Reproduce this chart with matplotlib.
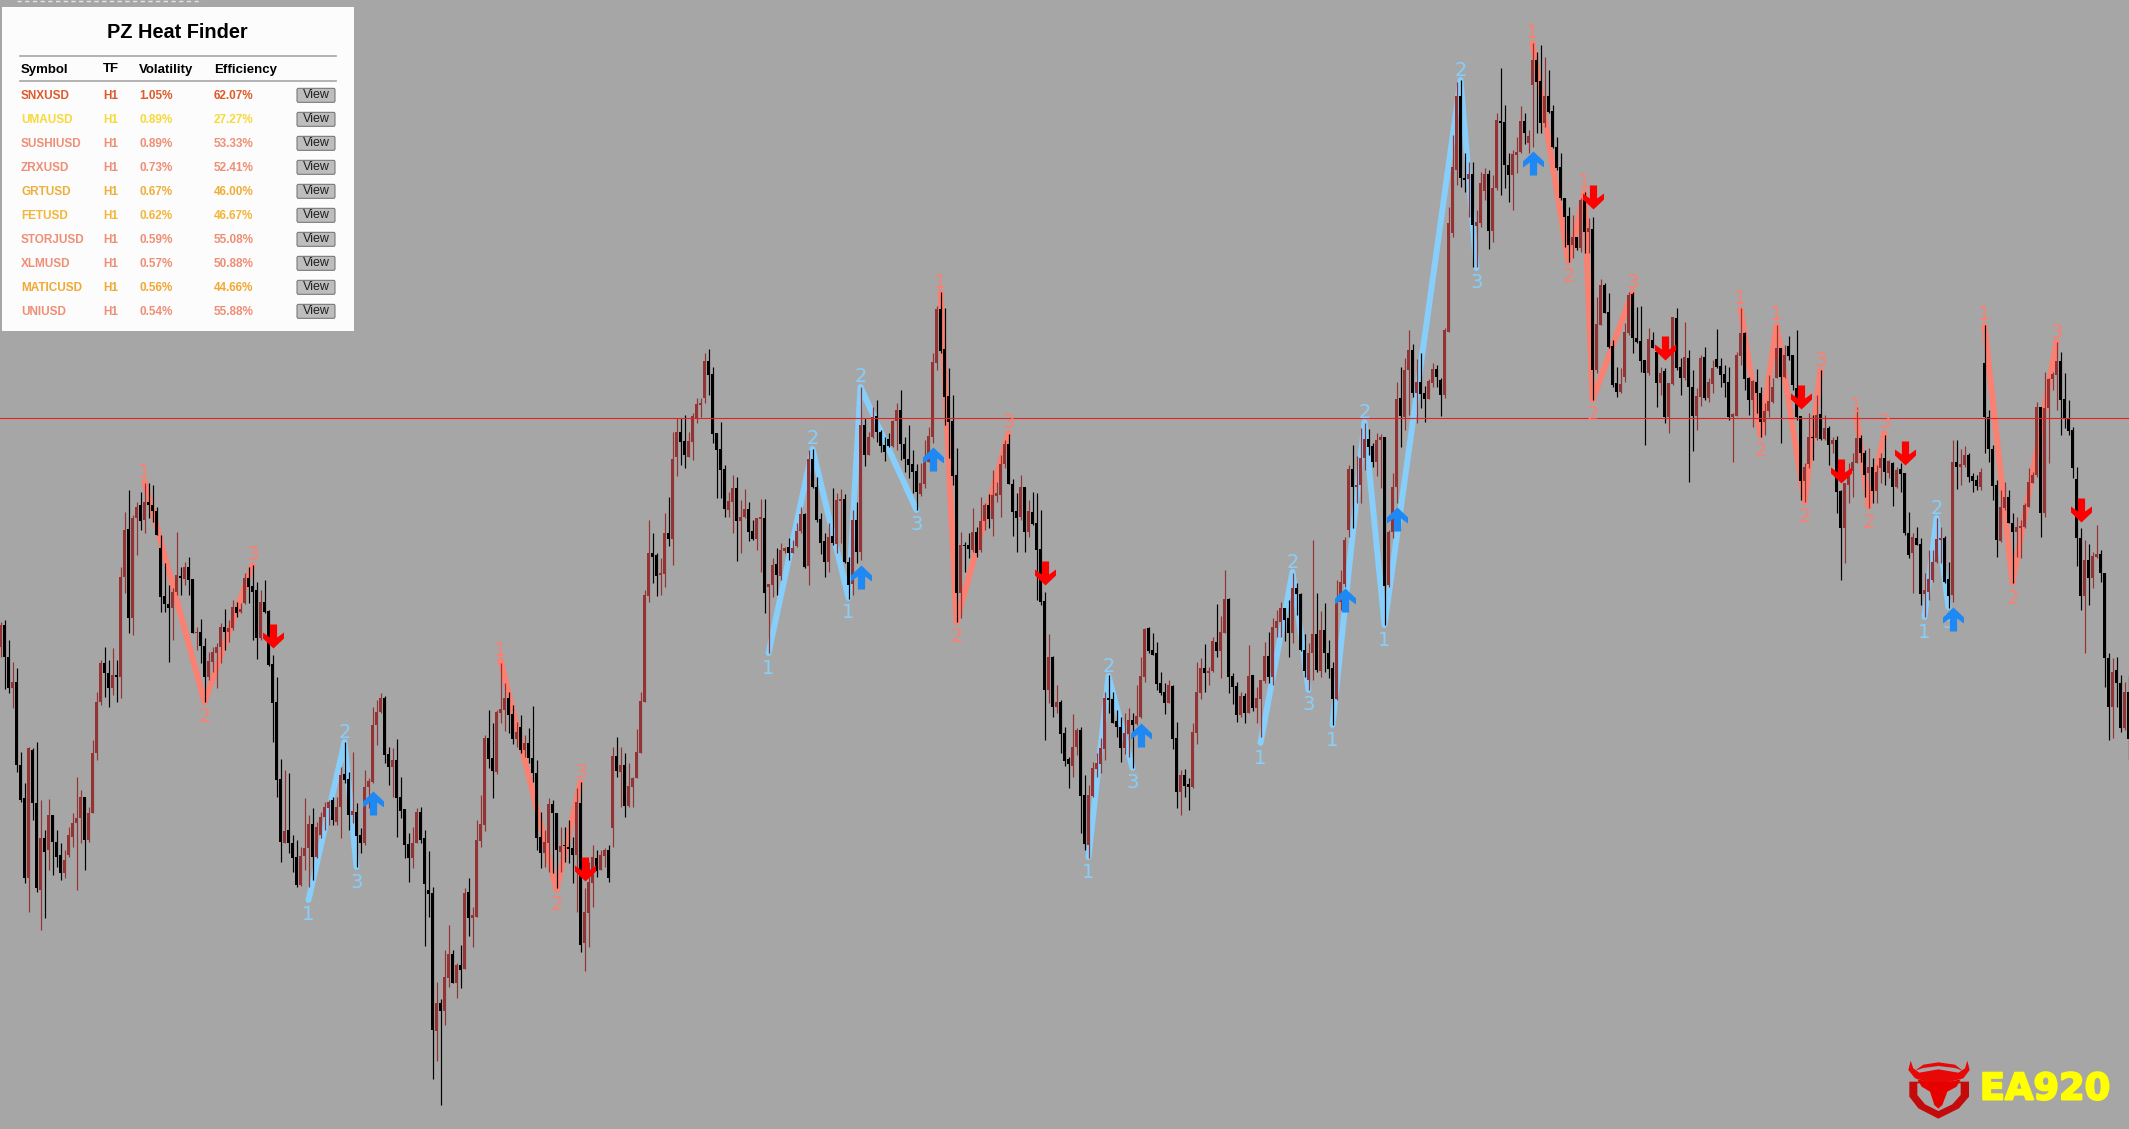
import numpy as np
import matplotlib
matplotlib.use('Agg')
import matplotlib.pyplot as plt
import matplotlib.patheffects as pe
from matplotlib.path import Path
from matplotlib.patches import Polygon, Rectangle, FancyBboxPatch

# no price scale is visible, so candles are kept in chart rows read from the picture (smaller = higher)
directions = ("rkkrkkkrkk" "rkrkkkrrrr" "rkrrrrkkrk" "rrkrrkrkkk" "kkkrrkrkkr" "kkrrrrkrrk"
              "rrkkkrkkkk" "krkkkrrrkr" "rrrkrrkkrk" "krrrrrkkrk" "kkkrrkkkkr" "krrkrkrkrr"
              "rrkkrrrkkr" "krkkkkrrkk" "rkkkrkrrrk" "rrkrkrkrrr" "rrrkkrrkrr" "kkrrrrrkkk"
              "kkrrkrrkkr" "rkrrkrrkrr" "rkrkkkkrkr" "rkkrkrkrrk" "kkkrrkkkkk" "rrrrrkkkkk"
              "rkkrkrrkrr" "rrkkkrkrkk" "kkrkrkkkrr" "kkrrrrrkkk" "krrkrrrkkk" "kkrkkrkkrr"
              "rkrrkrrkkk" "rkrkrrrkrr" "rkkrkkkrrk" "rkkkrrrrkr" "rrkkrrkrrr" "krrkrkkrrk"
              "krrrrkkrkr" "rrkrrkkkrr" "rkrrkkrkkk" "kkkrkrkrkr" "rkkkkrrrkk" "kkrkkrkrrk"
              "krkkrrkrrk" "kkkrrrkkrk" "krrrrkrkkk" "krrkrkrkrk" "krrrrkkrkr" "rkrkrkkkrk"
              "krrrrrkkrk" "rrkkkrkkkk" "rrkkrrrrrr" "krrrrkkkkk" "krkrrkkkrk" "krk")

highs = [622, 620, 640, 662, 668, 752, 783, 747, 748, 742,
         800, 830, 799, 815, 830, 843, 850, 827, 813, 777,
         790, 797, 807, 740, 692, 660, 647, 660, 648, 660,
         567, 512, 490, 515, 502, 492, 483, 483, 485, 507,
         535, 563, 585, 588, 532, 567, 562, 557, 579, 627,
         619, 638, 652, 647, 643, 623, 609, 620, 600, 602,
         603, 573, 567, 565, 582, 590, 580, 610, 655, 677,
         759, 770, 773, 835, 840, 847, 798, 815, 808, 822,
         812, 802, 800, 797, 797, 767, 742, 772, 752, 803,
         828, 770, 778, 707, 700, 693, 696, 747, 748, 739,
         777, 809, 833, 827, 808, 807, 830, 851, 887, 982,
         999, 950, 925, 950, 963, 945, 888, 878, 907, 820,
         795, 735, 710, 723, 710, 663, 683, 692, 705, 722,
         715, 735, 728, 706, 760, 812, 830, 798, 800, 813,
         827, 827, 820, 837, 788, 782, 888, 862, 845, 850,
         850, 848, 845, 747, 737, 747, 753, 763, 777, 729,
         692, 590, 520, 533, 553, 558, 513, 497, 432, 418,
         418, 415, 432, 413, 398, 398, 353, 349, 367, 433,
         422, 465, 492, 475, 477, 500, 489, 502, 520, 518,
         499, 499, 585, 558, 548, 543, 547, 538, 540, 523,
         507, 513, 450, 449, 477, 513, 533, 523, 488, 493,
         489, 494, 557, 510, 502, 387, 418, 432, 407, 400,
         430, 437, 433, 420, 403, 390, 437, 425, 450, 464,
         463, 440, 427, 353, 306, 292, 308, 368, 395, 448,
         532, 542, 533, 508, 527, 497, 503, 494, 470, 482,
         455, 440, 434, 479, 493, 475, 487, 500, 492, 493,
         510, 592, 634, 656, 685, 700, 727, 757, 714, 728,
         727, 775, 785, 762, 753, 738, 692, 675, 692, 710,
         717, 713, 708, 713, 685, 657, 628, 627, 633, 642,
         672, 683, 680, 685, 722, 770, 769, 778, 723, 662,
         658, 644, 667, 637, 604, 616, 570, 598, 673, 682,
         692, 693, 645, 675, 687, 680, 642, 632, 618, 610,
         602, 608, 600, 573, 583, 593, 634, 643, 540, 593,
         611, 603, 640, 662, 580, 570, 537, 465, 445, 456,
         428, 423, 429, 443, 433, 434, 437, 530, 473, 382,
         367, 358, 330, 344, 359, 353, 386, 379, 363, 365,
         378, 328, 207, 135, 82, 80, 153, 162, 162, 210,
         172, 168, 170, 175, 113, 68, 105, 153, 150, 137,
         106, 113, 130, 43, 52, 45, 57, 70, 105, 137,
         153, 198, 207, 215, 237, 198, 192, 218, 217, 297,
         279, 283, 293, 340, 367, 368, 323, 292, 292, 307,
         306, 360, 328, 332, 348, 367, 368, 383, 317, 308,
         358, 322, 350, 370, 388, 355, 347, 378, 360, 329,
         358, 365, 367, 413, 352, 308, 332, 377, 380, 369,
         387, 403, 375, 378, 325, 348, 345, 336, 355, 330,
         417, 463, 413, 415, 395, 370, 415, 426, 437, 436,
         490, 483, 463, 453, 407, 435, 450, 448, 458, 465,
         453, 435, 460, 462, 467, 463, 473, 512, 533, 527,
         538, 573, 550, 550, 518, 527, 536, 562, 440, 440,
         449, 446, 453, 473, 475, 468, 325, 410, 445, 480,
         490, 482, 490, 513, 517, 520, 503, 468, 472, 402,
         407, 372, 378, 372, 342, 352, 373, 400, 427, 467,
         528, 540, 544, 552, 525, 550, 573, 653, 658, 657,
         675, 682, 675]

body_tops = [625, 625, 657, 682, 682, 765, 798, 748, 750, 803,
             838, 838, 815, 815, 842, 855, 860, 835, 823, 818,
             797, 797, 813, 753, 702, 663, 663, 673, 675, 675,
             577, 530, 529, 518, 507, 505, 502, 502, 505, 511,
             548, 596, 604, 592, 575, 576, 567, 567, 579, 632,
             632, 646, 661, 652, 647, 627, 627, 628, 607, 607,
             609, 578, 578, 586, 590, 602, 602, 611, 664, 702,
             779, 831, 830, 843, 857, 856, 848, 824, 824, 827,
             817, 807, 802, 800, 807, 775, 774, 779, 811, 812,
             835, 787, 781, 725, 712, 698, 698, 754, 760, 760,
             797, 809, 844, 843, 812, 812, 838, 890, 893, 1003,
             1003, 977, 954, 954, 965, 965, 893, 892, 915, 840,
             824, 738, 738, 758, 712, 709, 698, 698, 714, 732,
             727, 743, 743, 758, 773, 837, 842, 804, 804, 813,
             846, 845, 847, 848, 802, 803, 912, 882, 857, 858,
             855, 850, 850, 756, 756, 765, 765, 786, 778, 752,
             701, 595, 553, 553, 555, 573, 533, 533, 459, 432,
             432, 441, 441, 416, 404, 403, 361, 361, 374, 433,
             449, 469, 501, 488, 488, 517, 509, 509, 531, 518,
             517, 518, 584, 565, 564, 550, 548, 547, 548, 531,
             514, 514, 459, 459, 487, 519, 541, 537, 536, 500,
             499, 499, 562, 520, 520, 425, 425, 437, 417, 416,
             432, 445, 439, 421, 410, 410, 444, 459, 464, 471,
             483, 462, 436, 362, 309, 309, 349, 396, 421, 475,
             545, 545, 545, 532, 532, 521, 505, 505, 495, 493,
             464, 444, 444, 484, 511, 487, 487, 511, 512, 523,
             549, 601, 657, 657, 702, 702, 733, 759, 747, 730,
             730, 795, 795, 768, 763, 748, 698, 698, 699, 721,
             727, 733, 720, 720, 716, 676, 629, 628, 650, 653,
             683, 692, 685, 686, 738, 775, 775, 784, 732, 692,
             668, 668, 671, 641, 642, 632, 599, 599, 676, 686,
             696, 696, 676, 675, 698, 680, 656, 656, 627, 621,
             608, 608, 618, 588, 588, 594, 650, 653, 634, 634,
             630, 630, 653, 668, 600, 582, 540, 469, 469, 485,
             458, 439, 439, 446, 440, 437, 437, 532, 487, 399,
             398, 370, 350, 350, 382, 382, 393, 381, 369, 369,
             380, 330, 223, 167, 96, 96, 178, 174, 174, 222,
             183, 174, 174, 188, 120, 121, 122, 165, 154, 152,
             121, 121, 136, 60, 60, 81, 96, 96, 111, 147,
             167, 198, 216, 237, 237, 200, 200, 228, 229, 324,
             285, 285, 312, 346, 383, 384, 332, 295, 294, 338,
             341, 360, 339, 340, 352, 373, 371, 383, 317, 318,
             367, 357, 358, 387, 396, 358, 357, 382, 368, 359,
             366, 374, 382, 414, 355, 333, 333, 378, 381, 382,
             393, 411, 401, 387, 348, 348, 355, 346, 355, 388,
             416, 467, 437, 437, 415, 414, 428, 428, 440, 440,
             491, 483, 472, 462, 438, 438, 453, 467, 467, 472,
             458, 458, 461, 463, 470, 469, 473, 533, 537, 538,
             544, 590, 579, 562, 539, 538, 538, 579, 462, 462,
             464, 455, 455, 476, 480, 472, 363, 417, 449, 485,
             507, 497, 497, 523, 527, 526, 505, 482, 475, 407,
             407, 408, 379, 374, 361, 361, 399, 418, 430, 479,
             538, 560, 560, 556, 554, 554, 573, 658, 672, 670,
             683, 692, 692]

body_bots = [647, 657, 688, 688, 765, 800, 878, 878, 803, 888,
             890, 852, 850, 842, 857, 873, 873, 855, 837, 823,
             818, 840, 840, 813, 753, 702, 673, 688, 688, 677,
             677, 577, 618, 618, 518, 521, 520, 505, 511, 535,
             597, 604, 608, 608, 592, 578, 579, 580, 633, 633,
             646, 677, 677, 662, 653, 647, 632, 632, 628, 613,
             612, 603, 587, 592, 638, 638, 612, 665, 703, 780,
             842, 843, 843, 858, 885, 885, 856, 848, 857, 857,
             835, 817, 808, 820, 822, 807, 780, 815, 815, 836,
             843, 843, 787, 782, 725, 712, 755, 767, 767, 798,
             811, 845, 858, 858, 843, 840, 884, 894, 1030, 1031,
             1011, 1011, 978, 983, 983, 970, 969, 918, 918, 917,
             841, 825, 759, 771, 772, 713, 710, 715, 739, 739,
             750, 750, 758, 773, 838, 853, 853, 843, 813, 850,
             852, 846, 849, 855, 855, 945, 943, 913, 883, 871,
             870, 856, 878, 828, 771, 772, 806, 806, 787, 778,
             753, 702, 596, 557, 576, 575, 574, 539, 539, 457,
             442, 455, 457, 442, 419, 405, 398, 375, 434, 450,
             470, 509, 510, 502, 521, 521, 517, 532, 539, 539,
             519, 593, 587, 585, 575, 576, 551, 553, 553, 546,
             531, 567, 566, 487, 520, 543, 562, 562, 543, 544,
             501, 562, 585, 584, 552, 552, 455, 455, 437, 432,
             446, 452, 446, 446, 421, 444, 459, 465, 472, 492,
             494, 484, 462, 437, 363, 351, 397, 422, 476, 593,
             593, 546, 549, 550, 553, 550, 521, 519, 519, 496,
             495, 464, 484, 512, 518, 517, 532, 532, 524, 550,
             602, 690, 690, 707, 707, 734, 761, 764, 766, 747,
             796, 844, 845, 796, 769, 764, 749, 700, 723, 727,
             748, 748, 734, 725, 724, 717, 677, 651, 655, 684,
             693, 703, 703, 739, 792, 792, 786, 787, 787, 733,
             693, 673, 673, 671, 651, 651, 633, 677, 687, 715,
             715, 713, 713, 708, 708, 699, 681, 677, 677, 628,
             622, 620, 633, 633, 594, 650, 671, 680, 653, 670,
             671, 653, 669, 699, 699, 602, 584, 530, 487, 487,
             485, 458, 447, 462, 462, 440, 586, 585, 532, 487,
             416, 417, 370, 393, 393, 394, 399, 399, 383, 377,
             395, 395, 332, 233, 170, 178, 180, 179, 225, 226,
             223, 191, 231, 231, 188, 123, 165, 175, 175, 155,
             152, 133, 143, 85, 82, 123, 123, 112, 147, 168,
             198, 217, 245, 245, 248, 248, 232, 232, 370, 370,
             325, 313, 347, 385, 392, 392, 377, 333, 338, 342,
             361, 373, 373, 348, 383, 383, 417, 417, 384, 368,
             378, 378, 387, 416, 416, 397, 398, 398, 384, 367,
             375, 383, 417, 417, 416, 356, 379, 400, 400, 393,
             422, 422, 411, 402, 378, 377, 377, 356, 385, 417,
             481, 481, 464, 438, 438, 439, 439, 445, 444, 492,
             528, 528, 485, 471, 463, 453, 475, 473, 491, 491,
             468, 472, 473, 487, 487, 474, 533, 555, 553, 545,
             594, 594, 592, 580, 562, 540, 582, 596, 595, 467,
             467, 465, 477, 481, 486, 487, 417, 449, 486, 540,
             541, 508, 523, 532, 532, 528, 527, 507, 483, 475,
             513, 513, 408, 379, 375, 400, 419, 431, 468, 538,
             596, 596, 578, 578, 557, 573, 658, 707, 707, 683,
             728, 728, 739]

lows = [657, 689, 693, 708, 772, 802, 883, 912, 820, 892,
        930, 918, 870, 875, 867, 880, 878, 857, 847, 890,
        843, 870, 842, 813, 760, 705, 697, 707, 695, 702,
        698, 593, 633, 635, 555, 530, 533, 518, 522, 535,
        612, 612, 662, 640, 595, 595, 585, 595, 633, 650,
        663, 702, 680, 672, 688, 663, 650, 642, 630, 617,
        613, 604, 603, 640, 659, 640, 613, 666, 742, 797,
        862, 843, 853, 872, 887, 886, 870, 887, 880, 858,
        838, 830, 825, 825, 825, 838, 783, 830, 823, 867,
        853, 845, 808, 783, 745, 713, 763, 785, 797, 837,
        818, 858, 882, 868, 843, 843, 946, 917, 1079, 1061,
        1105, 1025, 987, 983, 998, 988, 969, 936, 947, 917,
        847, 831, 768, 798, 774, 723, 731, 733, 744, 747,
        753, 757, 763, 782, 850, 868, 867, 872, 873, 888,
        872, 862, 863, 883, 912, 952, 971, 947, 907, 877,
        870, 867, 882, 847, 777, 807, 817, 807, 807, 778,
        753, 702, 602, 583, 596, 595, 587, 546, 565, 476,
        465, 468, 457, 460, 423, 417, 403, 395, 443, 498,
        498, 517, 517, 533, 561, 553, 518, 541, 540, 550,
        572, 613, 653, 597, 595, 580, 553, 560, 553, 547,
        533, 568, 585, 488, 522, 554, 577, 572, 545, 553,
        543, 563, 599, 595, 563, 560, 466, 455, 438, 442,
        452, 461, 447, 447, 450, 460, 472, 478, 493, 510,
        496, 488, 462, 443, 370, 353, 425, 458, 485, 622,
        618, 572, 558, 552, 557, 552, 530, 528, 536, 502,
        517, 468, 484, 536, 552, 520, 552, 537, 525, 600,
        605, 740, 703, 717, 713, 753, 766, 788, 777, 755,
        833, 850, 858, 797, 777, 773, 760, 713, 723, 737,
        762, 754, 757, 768, 725, 718, 682, 653, 655, 690,
        695, 714, 703, 749, 808, 815, 797, 810, 788, 744,
        699, 692, 685, 672, 657, 678, 633, 693, 704, 722,
        717, 723, 713, 711, 723, 737, 683, 683, 685, 637,
        637, 641, 657, 643, 615, 651, 677, 690, 680, 672,
        677, 672, 678, 725, 700, 610, 587, 537, 528, 503,
        503, 470, 455, 467, 476, 488, 625, 587, 538, 503,
        447, 430, 415, 397, 423, 408, 422, 399, 387, 387,
        416, 398, 332, 237, 185, 187, 192, 217, 267, 267,
        227, 200, 249, 242, 190, 195, 188, 202, 210, 173,
        153, 144, 153, 147, 133, 133, 127, 113, 148, 170,
        200, 247, 262, 258, 250, 252, 253, 253, 400, 373,
        325, 313, 348, 387, 397, 393, 382, 335, 353, 343,
        372, 445, 375, 348, 407, 395, 423, 433, 385, 370,
        395, 380, 482, 451, 430, 406, 400, 402, 393, 368,
        387, 397, 420, 462, 416, 365, 390, 415, 427, 413,
        437, 435, 417, 403, 378, 443, 378, 360, 390, 420,
        500, 502, 468, 460, 440, 440, 440, 465, 453, 513,
        580, 563, 503, 497, 463, 462, 497, 508, 503, 503,
        483, 485, 478, 506, 488, 492, 535, 558, 593, 545,
        605, 617, 600, 582, 563, 563, 583, 608, 602, 489,
        485, 467, 482, 492, 490, 490, 453, 462, 500, 557,
        542, 510, 523, 583, 557, 558, 528, 507, 483, 477,
        537, 517, 463, 390, 410, 435, 428, 435, 478, 566,
        610, 653, 605, 588, 558, 582, 687, 740, 738, 707,
        732, 730, 760]

level_line = 418

# swing patterns: bar numbers, levels and the digits printed at each swing
sell_bars = [[36, 51, 63], [125, 139, 145], [235, 239, 252], [383, 392, 396, 398, 408],
             [435, 440, 444, 451, 455], [464, 467, 471], [496, 503, 514]]
sell_levels = [[482, 702, 565], [660, 890, 782], [292, 622, 433], [43, 262, 192, 400, 292],
               [309, 436, 325, 502, 370], [417, 507, 433], [325, 583, 342]]
sell_digits = ["123", "123", "123", "12123", "12123", "123", "123"]

buy_bars = [[77, 86, 89], [192, 203, 212, 215, 229], [272, 277, 283], [315, 323, 327],
            [333, 341, 346, 365, 369], [481, 484, 487]]
buy_levels = [[900, 742, 867], [653, 449, 598, 387, 510], [857, 676, 768], [743, 572, 690],
              [725, 422, 625, 80, 268], [617, 518, 607]]
buy_digits = ["123", "12123", "123", "123", "12123", "123"]

up_arrow_bars = [93, 215, 233, 285, 336, 349, 383, 488]
up_arrow_levels = [791, 565, 447, 723, 588, 507, 151, 607]
down_arrow_bars = [68, 146, 261, 398, 416, 450, 460, 476, 520]
down_arrow_levels = [648, 881, 585, 209, 360, 409, 483, 465, 522]

# heat finder table
symbols = ["SNXUSD", "UMAUSD", "SUSHIUSD", "ZRXUSD", "GRTUSD", "FETUSD", "STORJUSD", "XLMUSD", "MATICUSD", "UNIUSD"]
timeframes = ["H1"] * 10
volatility = ["1.05%", "0.89%", "0.89%", "0.73%", "0.67%", "0.62%", "0.59%", "0.57%", "0.56%", "0.54%"]
efficiency = ["62.07%", "27.27%", "53.33%", "52.41%", "46.00%", "46.67%", "55.08%", "50.88%", "44.66%", "55.88%"]
row_colors = ["#DD5A2B", "#F7D93A", "#EE8F75", "#EE8F75", "#EFAE3A", "#F2B63A", "#EE8F75", "#EE8F75", "#F2A833", "#EE8F75"]

BG = '#A6A6A6'
CANDLE_RED = '#933333'
SELL = '#FA8072'
BUY = '#87CEFA'
W, H = 2129, 1129
px = 72 / 100  # one pixel in points

fig = plt.figure(figsize=(W / 100, H / 100), dpi=100, facecolor=BG)
ax = fig.add_axes([0, 0, 1, 1], facecolor=BG)
ax.set_xlim(-0.125, 532.125)
ax.set_ylim(H, 0)
ax.axis('off')

bars = np.arange(len(highs))
is_up = np.array([d == 'r' for d in directions])
candle_colors = np.where(is_up, CANDLE_RED, 'black')
tops = np.array(body_tops)
bots = np.array(body_bots)

# swing lines go under the candles
for patterns, levels, digits, color in [(sell_bars, sell_levels, sell_digits, SELL),
                                        (buy_bars, buy_levels, buy_digits, BUY)]:
    for pb, pl, dg in zip(patterns, levels, digits):
        ax.plot(pb, pl, color=color, lw=6 * px, solid_joinstyle='round', solid_capstyle='round', zorder=2)
        for i in range(len(pb)):
            other = pl[i + 1] if i == 0 else pl[i - 1]
            is_peak = pl[i] < other
            ax.annotate(dg[i], (pb[i], pl[i]), xytext=(0, 0.5 * px if is_peak else -5.5 * px),
                        textcoords='offset points', ha='center', va='bottom' if is_peak else 'top',
                        color=color, fontsize=14, family='DejaVu Sans', zorder=6.5)

ax.vlines(bars, highs, lows, colors=candle_colors, lw=1.2 * px, zorder=4)
ax.bar(bars, bots - tops, bottom=tops, width=0.85, color=candle_colors, linewidth=0, zorder=5)

ax.axhline(level_line, color='#E52222', lw=1.1 * px, zorder=6)

# arrows, tip of the marker sits on the level
arrow_size = (2 * 24 * px) ** 2
up_shape = np.array([(0, 0), (10.5, -10), (10.5, -16), (3.6, -11), (3.6, -24), (-3.6, -24),
                     (-3.6, -11), (-10.5, -16), (-10.5, -10), (0, 0)]) / 24
up_marker = Path(up_shape, closed=True)
down_marker = Path(up_shape * [1, -1], closed=True)
ax.scatter(up_arrow_bars, up_arrow_levels, marker=up_marker, s=arrow_size, c='#1E88F5', linewidths=0, zorder=7)
ax.scatter(down_arrow_bars, down_arrow_levels, marker=down_marker, s=arrow_size, c='#FF0000', linewidths=0, zorder=7)

# overlay in pixels for the panel and the logo
ov = fig.add_axes([0, 0, 1, 1], facecolor='none')
ov.set_xlim(0, W)
ov.set_ylim(H, 0)
ov.axis('off')

ov.plot([17, 202], [0.6, 0.6], color='#E4E4E4', lw=1.4 * px, ls=(0, (3, 2.5)))

ov.add_patch(Rectangle((2, 7), 352, 324, facecolor='#FCFCFC', edgecolor='none'))
font = 'Liberation Sans'
ov.text(177, 33, "PZ Heat Finder", ha='center', va='center', family=font, weight='bold', fontsize=14.3, color='black')
for y in [56, 81]:
    ov.plot([20, 336], [y, y], color='#A8A8A8', lw=1.7 * px)
col_x = [21, 103, 139, 214]
for x, name in zip(col_x, ["Symbol", "TF", "Volatility", "Efficiency"]):
    ov.text(x, 69.5, name, ha='left', va='center', family=font, weight='bold', fontsize=9.5, color='black')
for i in range(len(symbols)):
    y = 95.8 + 24 * i
    for x, s in zip(col_x, [symbols[i], timeframes[i], volatility[i], efficiency[i]]):
        ov.text(x, y, s, ha='left', va='center', family=font, weight='bold', fontsize=8.5, color=row_colors[i])
    ov.add_patch(FancyBboxPatch((297, y - 7.5), 38, 14, boxstyle='round,pad=0,rounding_size=1.5',
                                facecolor='#BDBDBD', edgecolor='#6E6E6E', lw=1 * px))
    ov.text(316, y - 0.5, "View", ha='center', va='center', family=font, fontsize=9, color='#222222')


def logo_pts(pts):
    return [(1860 + x / 3, 1040 + y / 3) for x, y in pts]


shield = [(148, 125), (148, 170), (175, 205), (235, 236), (297, 205), (327, 170), (327, 125)]
shield_in = [(172, 130), (172, 165), (195, 193), (235, 213), (277, 193), (302, 165), (302, 130)]
horns = [(152, 62), (145, 90), (165, 115), (200, 125), (235, 128), (270, 125), (310, 115), (329, 90), (322, 62),
         (315, 85), (295, 98), (235, 88), (178, 98), (160, 85)]
arch = [(165, 92), (190, 74), (235, 67), (285, 74), (308, 92), (285, 84), (235, 78), (190, 84)]
head = [(172, 118), (205, 125), (270, 125), (302, 118), (290, 140), (262, 155), (247, 195), (235, 206), (223, 195),
        (210, 155), (185, 140)]
ov.add_patch(Polygon(logo_pts(shield), closed=True, facecolor='#C40A0A', edgecolor='none'))
ov.add_patch(Polygon(logo_pts(shield_in), closed=True, facecolor=BG, edgecolor='none'))
ov.add_patch(Polygon(logo_pts(horns), closed=True, facecolor='#E80808', edgecolor='none'))
ov.add_patch(Polygon(logo_pts(arch), closed=True, facecolor='#E80808', edgecolor='none'))
ov.add_patch(Polygon(logo_pts(head), closed=True, facecolor='#E60000', edgecolor='none'))
logo_text = ov.text(2045, 1089, "EA920", ha='center', va='center', family='DejaVu Sans', weight='bold',
                    fontsize=26.5, color='#FFFF00')
logo_text.set_path_effects([pe.withStroke(linewidth=2 * px, foreground='#FFFF00')])

fig.savefig('out.png', dpi=100, facecolor=BG)
